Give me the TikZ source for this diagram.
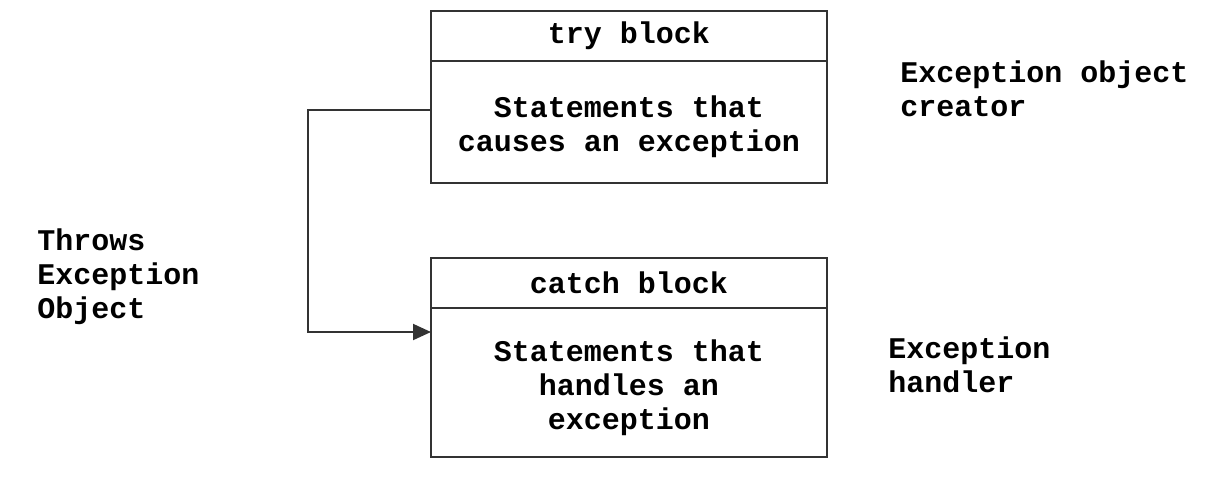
\documentclass[tikz,border=0pt]{standalone}
\usepackage{fontspec}
\setmonofont{Liberation Mono}
\usepackage{tikz}
\usetikzlibrary{positioning, arrows.meta}
\definecolor{colorLine}{HTML}{333333}

\tikzset{
    blockhead/.style={draw=colorLine, line width=1pt, minimum width=198pt, minimum height=25pt,
        inner sep=0pt, outer sep=0pt, font=\ttfamily\bfseries\fontsize{15}{17}\selectfont},
    blockbody/.style={blockhead},
    bodytext/.style={align=center, inner sep=0pt, yshift=-2.5pt,
        font=\ttfamily\bfseries\fontsize{15}{17}\selectfont},
    sidenote/.style={anchor=west, align=left, inner sep=0pt,
        font=\ttfamily\bfseries\fontsize{15}{17}\selectfont}
}

\begin{document}
\begin{tikzpicture}[x=0.5pt, y=-0.5pt]
    \useasboundingbox (0,0) rectangle (1213,477);

    % try part
    \node[blockhead] (tryhead) at (629,36) {try block};
    \node[blockbody, minimum height=61pt, below=0pt of tryhead,
        label={[bodytext]center:Statements that\\causes an exception}] (trybody) {};

    % catch part
    \node[blockhead] (catchhead) at (629,283) {catch block};
    \node[blockbody, minimum height=74.5pt, below=0pt of catchhead,
        label={[bodytext]center:Statements that\\handles an\\exception}] (catchbody) {};

    % notes
    \node[sidenote] (creator) at (900,89) {Exception object\\creator};
    \node[sidenote] (throws) at (37,277) {Throws\\Exception\\Object};
    \node[sidenote] (handler) at (888,365) {Exception\\handler};

    % throw path
    \draw[colorLine, line width=1pt, -{Triangle[length=9pt,width=8pt]}]
        ([yshift=6pt]trybody.west) -| (308,200) |- ([yshift=-12pt]catchbody.north west);
\end{tikzpicture}
\end{document}
